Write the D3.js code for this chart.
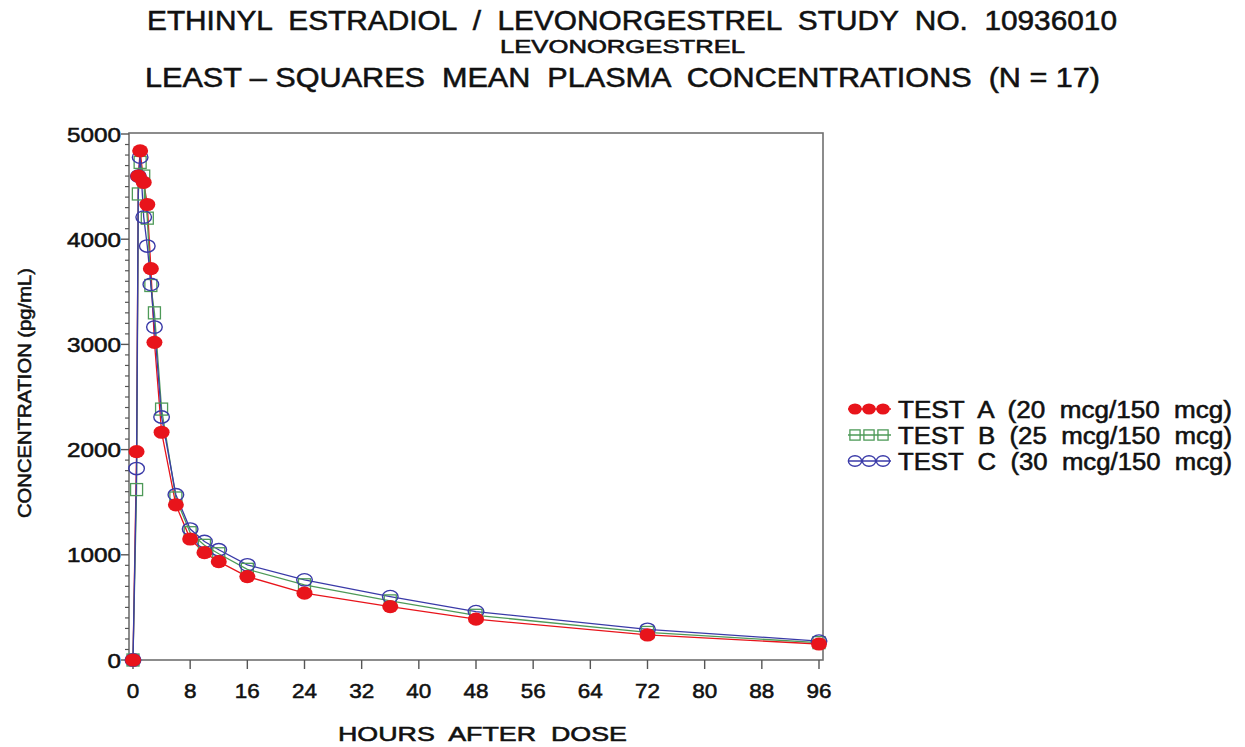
<!DOCTYPE html>
<html>
<head>
<meta charset="utf-8">
<script src="https://cdn.jsdelivr.net/npm/d3@7"></script>
<style>
  html, body { margin: 0; padding: 0; background: #fff; }
  svg { display: block; font-family: "Liberation Sans", Arial, Helvetica, sans-serif; }
  text { white-space: pre; fill: #111; stroke: #111; stroke-width: 0.55px; }
</style>
</head>
<body>
<svg id="chart" width="1245" height="747"></svg>
<script>
// Sampling times (hours after dose)
const hours = [0, 0.5, 0.75, 1, 1.5, 2, 2.5, 3, 4, 6, 8, 10, 12, 16, 24, 36, 48, 72, 96];

// Least-squares mean levonorgestrel concentrations (pg/mL)
const testA = [0, 1980, 4600, 4840, 4540, 4330, 3720, 3020, 2165, 1475, 1150, 1020, 935, 793, 635, 508, 388, 238, 152];
const testB = [0, 1620, 4430, 4730, 4600, 4200, 3560, 3300, 2385, 1540, 1210, 1090, 1010, 862, 715, 562, 425, 262, 165];
const testC = [0, 1820, 4600, 4780, 4210, 3935, 3570, 3165, 2310, 1571, 1245, 1127, 1048, 905, 762, 603, 460, 292, 180];

const seriesNames = ["TEST  A  (20  mcg/150  mcg)", "TEST  B  (25  mcg/150  mcg)", "TEST  C  (30  mcg/150  mcg)"];
const xTicks = [0, 8, 16, 24, 32, 40, 48, 56, 64, 72, 80, 88, 96];
const yTicks = [0, 1000, 2000, 3000, 4000, 5000];
const yMinorStep = 100;

const titleLines = [
  "ETHINYL  ESTRADIOL  /  LEVONORGESTREL  STUDY  NO.  10936010",
  "LEVONORGESTREL",
  "LEAST – SQUARES  MEAN  PLASMA  CONCENTRATIONS  (N = 17)"
];
const xLabel = "HOURS  AFTER  DOSE";
const yLabel = "CONCENTRATION (pg/mL)";

const svg = d3.select("#chart");

const x = d3.scaleLinear().domain([0, 96]).range([133, 819]);
const y = d3.scaleLinear().domain([0, 5000]).range([660, 134]);
const frame = { left: 129, right: 823, top: 133, bottom: 660 };

// Titles
const titleSpecs = [
  { x: 147, y: 30, size: 28, len: 970 },
  { x: 500, y: 53, size: 18, len: 245 },
  { x: 145, y: 87, size: 28, len: 955 }
];
titleLines.forEach((t, i) => {
  const s = titleSpecs[i];
  svg.append("text")
    .attr("x", s.x).attr("y", s.y)
    .attr("font-size", s.size)
    .attr("textLength", s.len)
    .attr("lengthAdjust", "spacingAndGlyphs")
    .text(t);
});

// Plot frame
svg.append("rect")
  .attr("x", frame.left).attr("y", frame.top)
  .attr("width", frame.right - frame.left)
  .attr("height", frame.bottom - frame.top)
  .attr("fill", "none")
  .attr("stroke", "#707070")
  .attr("stroke-width", 1.6);

// Y axis: major and minor ticks
const yMinor = d3.range(0, 5001, yMinorStep).filter(v => v % 1000 !== 0);
svg.append("g").selectAll("line").data(yMinor).join("line")
  .attr("x1", frame.left - 4).attr("x2", frame.left)
  .attr("y1", d => y(d)).attr("y2", d => y(d))
  .attr("stroke", "#555").attr("stroke-width", 1.2);
svg.append("g").selectAll("line").data(yTicks).join("line")
  .attr("x1", frame.left - 8).attr("x2", frame.left)
  .attr("y1", d => y(d)).attr("y2", d => y(d))
  .attr("stroke", "#555").attr("stroke-width", 1.4);
svg.append("g").selectAll("text").data(yTicks).join("text")
  .attr("x", 121)
  .attr("y", d => y(d) + 7.5)
  .attr("text-anchor", "end")
  .attr("font-size", 21)
  .attr("textLength", d => String(d).length * 13.5)
  .attr("lengthAdjust", "spacingAndGlyphs")
  .text(d => d);

// X axis ticks and labels
svg.append("g").selectAll("line").data(xTicks).join("line")
  .attr("x1", d => x(d)).attr("x2", d => x(d))
  .attr("y1", frame.bottom).attr("y2", frame.bottom + 9)
  .attr("stroke", "#555").attr("stroke-width", 1.4);
svg.append("g").selectAll("text").data(xTicks).join("text")
  .attr("x", d => x(d))
  .attr("y", 698)
  .attr("text-anchor", "middle")
  .attr("font-size", 21)
  .attr("textLength", d => String(d).length * 12.5)
  .attr("lengthAdjust", "spacingAndGlyphs")
  .text(d => d);

// Axis titles
svg.append("text")
  .attr("x", 338).attr("y", 741)
  .attr("font-size", 20)
  .attr("textLength", 289)
  .attr("lengthAdjust", "spacingAndGlyphs")
  .text(xLabel);
svg.append("text")
  .attr("transform", "translate(31,518) rotate(-90)")
  .attr("font-size", 19)
  .attr("textLength", 250)
  .attr("lengthAdjust", "spacingAndGlyphs")
  .text(yLabel);

// Series styling
const series = [
  { name: seriesNames[0], values: testA, color: "#e8141b", shape: "dot" },
  { name: seriesNames[1], values: testB, color: "#4e9a58", shape: "square" },
  { name: seriesNames[2], values: testC, color: "#3a3aa8", shape: "circle" }
];

const line = d3.line().x((d, i) => x(hours[i])).y(d => y(d));

// Connecting lines: red underneath, blue on top
[0, 1, 2].forEach(k => {
  const s = series[k];
  svg.append("path")
    .datum(s.values)
    .attr("fill", "none")
    .attr("stroke", s.color)
    .attr("stroke-width", 1.3)
    .attr("d", line);
});

function drawMarker(g, shape, color, cx, cy, scale) {
  const sc = scale || 1;
  if (shape === "dot") {
    g.append("ellipse").attr("cx", cx).attr("cy", cy)
      .attr("rx", 8 * sc).attr("ry", 6.6 * sc)
      .attr("fill", color);
  } else if (shape === "circle") {
    g.append("ellipse").attr("cx", cx).attr("cy", cy)
      .attr("rx", 7.8 * sc).attr("ry", 6.2 * sc)
      .attr("fill", "none").attr("stroke", color).attr("stroke-width", 1.4);
  } else {
    g.append("rect")
      .attr("x", cx - 6 * sc).attr("y", cy - 6 * sc)
      .attr("width", 12 * sc).attr("height", 12 * sc)
      .attr("fill", "none").attr("stroke", color).attr("stroke-width", 1.3);
  }
}

// Markers: red dots drawn last so they sit on top
[1, 2, 0].forEach(k => {
  const s = series[k];
  const g = svg.append("g");
  s.values.forEach((v, i) => drawMarker(g, s.shape, s.color, x(hours[i]), y(v)));
});

// Legend
const legendRows = [409, 435, 461];
series.forEach((s, i) => {
  const g = svg.append("g");
  const cy = legendRows[i];
  g.append("line")
    .attr("x1", 848).attr("x2", 891)
    .attr("y1", cy).attr("y2", cy)
    .attr("stroke", s.color).attr("stroke-width", 1.3);
  [855, 869, 883].forEach(cx => drawMarker(g, s.shape, s.color, cx, cy, 0.85));
  g.append("text")
    .attr("x", 898).attr("y", cy + 8.5)
    .attr("font-size", 23)
    .attr("textLength", 334)
    .attr("lengthAdjust", "spacingAndGlyphs")
    .text(s.name);
});
</script>
</body>
</html>
